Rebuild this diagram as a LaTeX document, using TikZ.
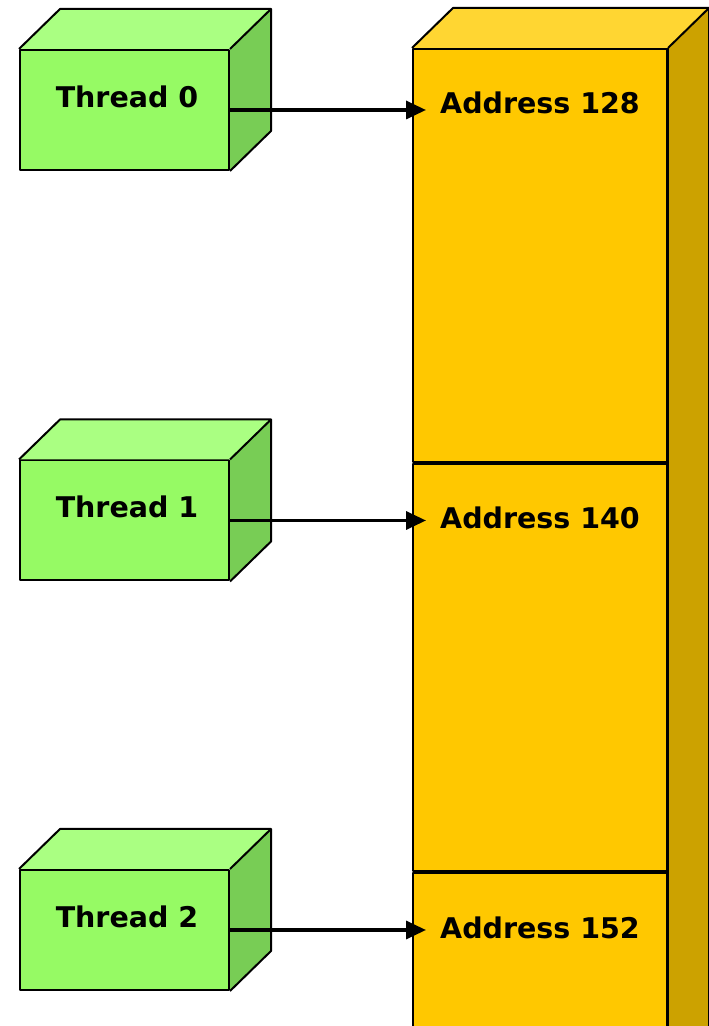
\documentclass[tikz,border=0pt]{standalone}
\usepackage{fontspec}
\setmainfont{DejaVu Sans}
\usetikzlibrary{arrows.meta,calc}
\definecolor{gfront}{RGB}{150,250,100}
\definecolor{gtop}{RGB}{170,255,130}
\definecolor{gside}{RGB}{120,205,85}
\definecolor{yfront}{RGB}{255,200,0}
\definecolor{ytop}{RGB}{255,214,50}
\definecolor{yside}{RGB}{204,162,0}
\tikzset{
  x=1pt,y=1pt,
  edge/.style={draw=black,line width=2pt,line join=round},
  threadfront/.style={edge,fill=gfront,minimum width=209pt,minimum height=120pt,inner sep=0pt},
  cell/.style={edge,fill=yfront,minimum width=254pt,inner sep=0pt},
  lbl/.style={font=\bfseries\fontsize{28.5}{31}\selectfont,inner sep=0pt},
  addr/.style={lbl,anchor=west,inner xsep=14pt},
  link/.style={line width=3.4pt,-{Triangle[length=20pt,width=18pt]}}
}
\newcommand{\cubeside}[3]{% node, topcolor, sidecolor
  \fill[#2] (#1.north west) -- ++(41,40) -- ($(#1.north east)+(41,40)$) -- (#1.north east) -- cycle;
  \fill[#3] (#1.north east) -- ++(41,40) -- ($(#1.south east)+(41,40)$) -- (#1.south east) -- cycle;
  \draw[edge] (#1.north west) -- ++(41,40) -- ($(#1.north east)+(41,40)$) -- (#1.north east);
  \draw[edge] ($(#1.north east)+(41,40)$) -- ($(#1.south east)+(41,40)$) -- (#1.south east);
}
\begin{document}
\begin{tikzpicture}
\useasboundingbox (0,0) rectangle (709,1026);
\clip (0,0) rectangle (709,1026);
% threads
\node[threadfront] (t0) at (124.5,916) {};
\node[threadfront] (t1) at (124.5,505.5) {};
\node[threadfront] (t2) at (124.5,96) {};
\cubeside{t0}{gtop}{gside}
\cubeside{t1}{gtop}{gside}
\cubeside{t2}{gtop}{gside}
\node[lbl] (n0) at (127,929) {Thread 0};
\node[lbl] (n1) at (127,519) {Thread 1};
\node[lbl] (n2) at (127,109) {Thread 2};
% memory column
\node[cell,anchor=north west,minimum height=413pt] (c0) at (412,978) {};
\node[cell,anchor=north west,minimum height=407pt] (c1) at (c0.south west) {};
\node[cell,anchor=north west,minimum height=240pt] (c2) at (c1.south west) {};
\fill[ytop] (c0.north west) -- ++(41,40) -- ($(c0.north east)+(41,40)$) -- (c0.north east) -- cycle;
\fill[yside] (c0.north east) -- ++(41,40) -- ($(c2.south east)+(41,40)$) -- (c2.south east) -- cycle;
\draw[edge] (c0.north west) -- ++(41,40) -- ($(c0.north east)+(41,40)$) -- (c0.north east);
\draw[edge] ($(c0.north east)+(41,40)$) -- ($(c2.south east)+(41,40)$);
\draw[edge] (c0.north east) -- (c2.south east);
\node[addr] (a0) at (426,923) {Address 128};
\node[addr] (a1) at (426,508) {Address 140};
\node[addr] (a2) at (426,98) {Address 152};
% arrows
\draw[link] (t0.east) -- (t0.east -| a0.west);
\draw[link] (t1.east) -- (t1.east -| a1.west);
\draw[link] (t2.east) -- (t2.east -| a2.west);
\end{tikzpicture}
\end{document}
